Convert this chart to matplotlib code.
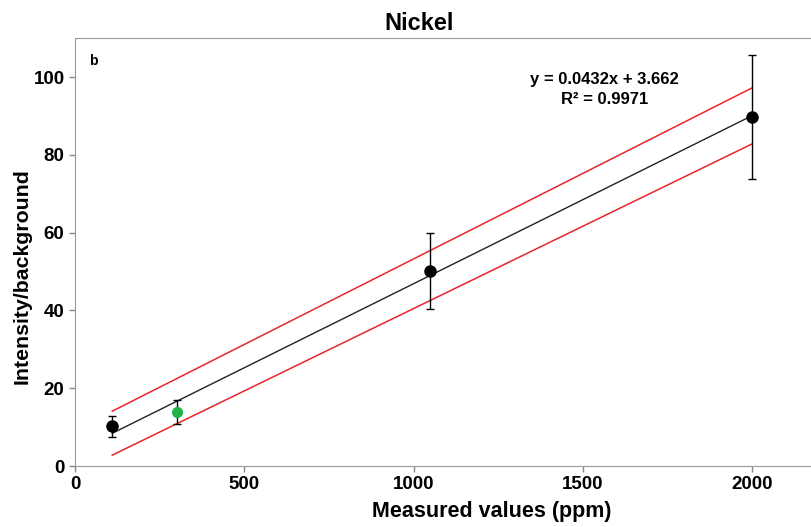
import matplotlib.pyplot as plt

plt.rcParams['font.family'] = ['Liberation Sans', 'DejaVu Sans']
plt.rcParams['font.weight'] = 'bold'

# measured points
x_black = [110, 1050, 2000]
y_black = [10.2, 50.1, 89.7]
err_black = [2.7, 9.8, 16.0]

x_green = [300]
y_green = [13.9]
err_green = [3.0]

# fit and prediction band
fit_x = [110, 2000]
slope = 0.0432
intercept = 3.662
upper_y = [14.1, 97.2]
lower_y = [2.8, 82.8]

fig = plt.figure(figsize=(8.11, 5.27), dpi=100)
ax = fig.add_axes([0.0925, 0.1157, 0.93, 0.812])

fit_y = [slope * v + intercept for v in fit_x]
ax.plot(fit_x, fit_y, color='#222222', lw=1.0)
ax.plot(fit_x, upper_y, color='#e8252a', lw=1.1)
ax.plot(fit_x, lower_y, color='#e8252a', lw=1.1)

ax.errorbar(x_black, y_black, yerr=err_black, fmt='o', color='black',
            ms=8, elinewidth=1.0, capsize=3, capthick=1.0)
ax.errorbar(x_green, y_green, yerr=err_green, fmt='none', ecolor='black',
            elinewidth=1.0, capsize=3, capthick=1.0)
ax.plot(x_green, y_green, 'o', color='#1fb34a', ms=7)

ax.set_xlim(0, 2228)
ax.set_ylim(0, 110)
ax.set_xticks([0, 500, 1000, 1500, 2000])
ax.set_yticks([0, 20, 40, 60, 80, 100])
ax.tick_params(labelsize=13.5, direction='out', length=4, width=1,
               color='#888888')
for lab in ax.get_xticklabels() + ax.get_yticklabels():
    lab.set_fontweight('bold')

ax.spines['right'].set_visible(False)
for s in ['top', 'left', 'bottom']:
    ax.spines[s].set_color('#999999')

ax.set_xlabel('Measured values (ppm)', fontsize=15.5, fontweight='bold')
ax.set_ylabel('Intensity/background', fontsize=15.3, fontweight='bold')
ax.xaxis.set_label_coords(0.552, -0.082)
ax.yaxis.set_label_coords(-0.058, 0.444)
fig.text(0.517, 0.955, 'Nickel', fontsize=17, fontweight='bold',
         ha='center', va='center')

ax.text(53, 104, 'b', fontsize=10, fontweight='bold', ha='center', va='center')
ax.text(1563, 99.3, 'y = 0.0432x + 3.662', fontsize=12, fontweight='bold',
        ha='center', va='center')
ax.text(1563, 94.2, 'R² = 0.9971', fontsize=12, fontweight='bold',
        ha='center', va='center')

fig.savefig('out.png', dpi=100)
